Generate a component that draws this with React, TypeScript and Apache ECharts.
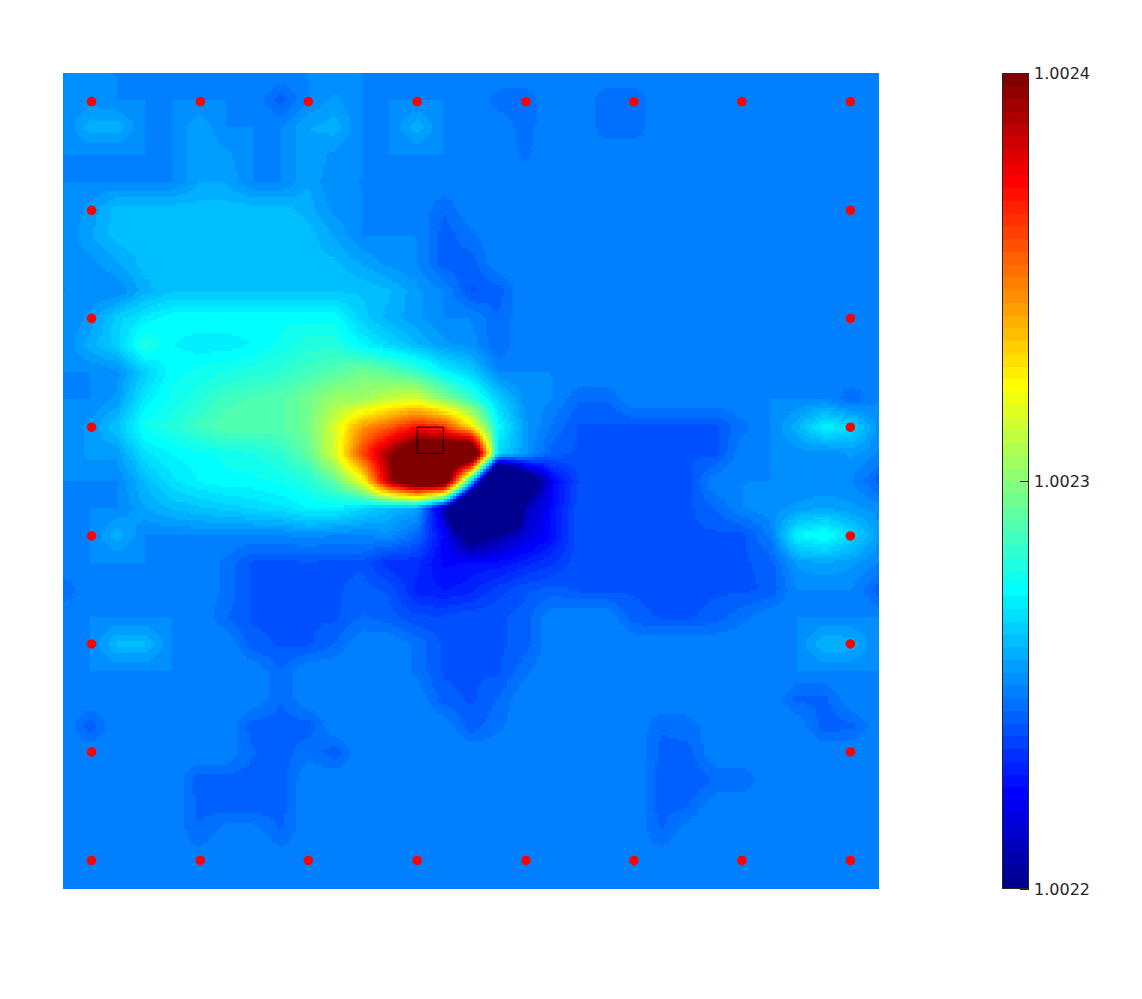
import React, { useEffect, useRef } from "react";
import * as echarts from "echarts";

// Colour-bar range and ticks (x 1e-4, so that the tick interval is a whole number)
const scaleMin = 10022;
const scaleMax = 10024;
const colorbarTicks = [10022, 10023, 10024];
const colorLevels = 64;

// Field at the 31 x 31 mesh vertices, in percent of the colour-bar range.
// Values outside 0..100 are saturated in the picture.
const fieldRows: number[][] = [
  [25,25,25,25,25,25,25,25,25,25,25,25,25,25,25,25,25,25,25,25,25,25,25,25,25,25,25,25,25,25,25],
  [25,26,25,25,25,25,25,25,21,25,27,25,25,25,25,25,22.5,22,25,25,22,22,25,25,25,25,25,25,25,25,25],
  [25,29,29,25,25,28,25,25,25,28,29,25,25,29,25,25,25,22.5,25,25,22,22,25,25,25,25,25,25,25,25,25],
  [25,25,25,25,25,28,27,25,25,28,26,25,25,25,25,25,25,23,25,25,25,25,25,25,25,25,25,25,25,25,25],
  [25,25,25,25,25,28,28,25,25,28,25,25,25,25,25,25,25,25,25,25,25,25,25,25,25,25,25,25,25,25,25],
  [25,27,30.5,30.5,30.5,30.5,30.5,30.5,30.5,29,26,25,25,25,22,25,25,25,25,25,25,25,25,25,25,25,25,25,25,25,25],
  [25,28,30.5,30.5,30.5,30.5,30.5,30.5,30.5,30.5,28,25,25,25,21,23,25,25,25,25,25,25,25,25,25,25,25,25,25,25,25],
  [25,26,28,30.5,30.5,30.5,30.5,30.5,30.5,30.5,30,28,26,25,21,21,25,25,25,25,25,25,25,25,25,25,25,25,25,25,25],
  [25,25,25,29,31,31,31,31,31,31,31,31,30,27,25,20,21,25,25,25,25,25,25,25,25,25,25,25,25,25,25],
  [25,27,32,35,37,37,37,37,37,37,37,32,29,27,25,25,22,25,25,25,25,25,25,25,25,25,25,25,25,25,25],
  [25,29,32,40,36,35,35,36,38,40,40,36,33,30,27,26,22,25,25,25,25,25,25,25,25,25,25,25,25,25,25],
  [25,25,26,32,37,38,39,40,41,43,45,48,46,42,36,32,25,25,25,25,25,25,25,25,25,25,25,25,25,25,25],
  [25,25,27,35,38,40,43,44,45,48,52,52,56,58,50,42,32,26,25,22,22,25,25,25,25,25,25,25,25,22,25],
  [25,27,31,38,40,43,45,45,45,48,58,72,78,86,82,65,37,27,23,20,20,20,20,20,20,23,25,29,36,33,26],
  [25,27,27,34,36,37,38,39,41,46,58,80,97,112,115,125,33,27,21,20,20,20,20,20,20,25,25,26,25,27,25],
  [25,25,25,30,34,36,37,37,38,40,46,60,95,115,115,35,-50,-10,12,19,20,20,20,20,25,25,25,25,25,25,21],
  [25,25,25,28,30,31,32,33,34,36,36,33,30,28,5,-45,-50,4,13,20,20,20,20,20,22,25,26,27,28,27,26],
  [25,25,29,25,25,25,25,25,25,26,25,25,26,22,12,-5,2,8,13,20,20,20,20,20,20,20,24,36,38,33,27],
  [25,25,25,25,25,25,23,20,20,20,20,20,16,16,12,13,13,15,17,20,20,20,20,20,20,20,21,27,28,27,25],
  [22,25,25,25,25,25,23,20,20,20,20,21,20,15,14,15,18,20,21,20,20,20,20,20,20,20,20.5,25,25,25,21],
  [25,25,25,25,25,25,22,20,20,20,20,22,21,19,19,20,20,21,25,25,25,21,20,20,21,23,25,25,25,25,25],
  [25,25,30,30,25,25,25,21,20,20,22,25,25,23,20,20,20,21,25,25,25,25,25,25,25,25,25,25,30,29,25],
  [25,25,25,25,25,25,25,25,22,25,25,25,25,23,20,20,20,23,25,25,25,25,25,25,25,25,25,25,25,25,25],
  [25,25,25,25,25,25,25,25,22,25,25,25,25,25,21,20,22,25,25,25,25,25,25,25,25,25,25,21.5,21.5,25,25],
  [25,21,25,25,25,25,25,21,21,21,25,25,25,25,25,21,23,25,25,25,25,25,22,22.5,25,25,25,25,21,21.5,25],
  [25,25,25,25,25,25,25,22,21,23,21,25,25,25,25,25,25,25,25,25,25,25,21.5,21.5,25,25,25,25,25,25,25],
  [25,25,25,25,25,21,21,21,21,25,25,25,25,25,25,25,25,25,25,25,25,25,21,20.5,22,22,25,25,25,25,25],
  [25,25,25,25,25,21.5,21,21,21,25,25,25,25,25,25,25,25,25,25,25,25,25,21,22,25,25,25,25,25,25,25],
  [25,25,25,25,25,22,25,25,22,25,25,25,25,25,25,25,25,25,25,25,25,25,22,25,25,25,25,25,25,25,25],
  [25,25,25,25,25,25,25,25,25,25,25,25,25,25,25,25,25,25,25,25,25,25,25,25,25,25,25,25,25,25,25],
  [25,25,25,25,25,25,25,25,25,25,25,25,25,25,25,25,25,25,25,25,25,25,25,25,25,25,25,25,25,25,25],
];

// Red sensor dots, mesh units
const dotPositions = [1.05, 5.05, 9.02, 13.02, 17.02, 20.99, 24.96, 28.95];
// Black square, mesh units: [x0, y0, x1, y1]
const markedCell = [13, 13, 14, 14];

const SUB = 9;

function jetColor(index: number): string {
  const k = (index + 1) / colorLevels;
  const c = (v: number) => Math.round(255 * Math.max(0, Math.min(1, v)));
  const r = c(Math.min(4 * k - 1.5, -4 * k + 4.5));
  const g = c(Math.min(4 * k - 0.5, -4 * k + 3.5));
  const b = c(Math.min(4 * k + 0.5, -4 * k + 2.5));
  return `rgb(${r},${g},${b})`;
}

function levelIndex(percent: number): number {
  const t = Math.max(0, Math.min(0.99999, percent / 100));
  return Math.floor(t * (colorLevels - 0.01));
}

function cellData(): number[][] {
  const out: number[][] = [];
  for (let j = 0; j < fieldRows.length - 1; j++) {
    for (let i = 0; i < fieldRows[j].length - 1; i++) {
      out.push([i, j, fieldRows[j][i], fieldRows[j][i + 1], fieldRows[j + 1][i], fieldRows[j + 1][i + 1]]);
    }
  }
  return out;
}

// One mesh cell, shaded between its four corner values like MATLAB's "shading interp"
function renderCell(_p: any, api: any) {
  const i = api.value(0), j = api.value(1);
  const a = api.value(2), b = api.value(3), c = api.value(4), d = api.value(5);
  const p0 = api.coord([i, j]);
  const p1 = api.coord([i + 1, j + 1]);
  const xs: number[] = [], ys: number[] = [];
  for (let s = 0; s <= SUB; s++) {
    xs.push(Math.round(p0[0] + ((p1[0] - p0[0]) * s) / SUB));
    ys.push(Math.round(p0[1] + ((p1[1] - p0[1]) * s) / SUB));
  }
  const children: any[] = [];
  const idx = (u: number, v: number) =>
    levelIndex(a * (1 - u) * (1 - v) + b * u * (1 - v) + c * (1 - u) * v + d * u * v);
  const rect = (x0: number, y0: number, x1: number, y1: number, level: number) => ({
    type: "rect",
    shape: { x: x0, y: y0, width: x1 - x0, height: y1 - y0 },
    style: { fill: jetColor(level) },
    silent: true,
  });
  for (let r = 0; r < SUB; r++) {
    const v = (r + 0.5) / SUB;
    let start = 0;
    let cur = idx(0.5 / SUB, v);
    for (let s = 1; s <= SUB; s++) {
      const next = s < SUB ? idx((s + 0.5) / SUB, v) : -1;
      if (next !== cur) {
        children.push(rect(xs[start], ys[r], xs[s], ys[r + 1], cur));
        start = s;
        cur = next;
      }
    }
  }
  return { type: "group", children };
}

function renderLevel(_p: any, api: any) {
  const level = api.value(0);
  const p0 = api.coord([0, scaleMin + ((level + 1) * (scaleMax - scaleMin)) / colorLevels]);
  const p1 = api.coord([1, scaleMin + (level * (scaleMax - scaleMin)) / colorLevels]);
  return {
    type: "rect",
    shape: { x: p0[0], y: Math.floor(p0[1]), width: p1[0] - p0[0], height: Math.ceil(p1[1]) - Math.floor(p0[1]) },
    style: { fill: jetColor(level) },
  };
}

function renderOutline(_p: any, api: any) {
  const p0 = api.coord([api.value(0), api.value(1)]);
  const p1 = api.coord([api.value(2), api.value(3)]);
  return {
    type: "rect",
    shape: { x: p0[0] + 0.5, y: p0[1] + 0.5, width: p1[0] - p0[0] - 1, height: p1[1] - p0[1] - 1 },
    style: { fill: "none", stroke: api.value(4) ? "#262626" : "#000", lineWidth: 1 },
  };
}

function renderTick(_p: any, api: any) {
  const p = api.coord([1, api.value(0)]);
  const y = Math.floor(p[1]) + 0.5;
  return {
    type: "line",
    shape: { x1: p[0] - 9, y1: y, x2: p[0], y2: y },
    style: { stroke: "#262626", lineWidth: 1 },
  };
}

export default function App() {
  const ref = useRef<HTMLDivElement>(null);
  useEffect(() => {
    const chart = echarts.init(ref.current!, undefined, { renderer: "svg" });
    const dots: number[][] = [];
    dotPositions.forEach((p) => {
      dots.push([p, dotPositions[0]], [p, dotPositions[7]]);
    });
    dotPositions.slice(1, 7).forEach((p) => {
      dots.push([dotPositions[0], p], [dotPositions[7], p]);
    });
    const levels = Array.from({ length: colorLevels }, (_, i) => [i]);
    chart.setOption({
      animation: false,
      backgroundColor: "#fff",
      grid: [
        { left: 63, top: 73, width: 816, height: 816 },
        { left: 1002, top: 73, width: 27, height: 816 },
      ],
      xAxis: [
        { type: "value", gridIndex: 0, min: 0, max: 30, show: false },
        { type: "value", gridIndex: 1, min: 0, max: 1, show: false },
      ],
      yAxis: [
        { type: "value", gridIndex: 0, min: 0, max: 30, inverse: true, show: false },
        {
          type: "value",
          gridIndex: 1,
          min: scaleMin,
          max: scaleMax,
          interval: 1,
          position: "right",
          splitLine: { show: false },
          axisLine: { show: false },
          axisTick: { show: false },
          axisLabel: {
            show: true,
            margin: 5,
            fontFamily: "DejaVu Sans",
            fontSize: 16,
            color: "#262626",
            formatter: (v: number) => (v / 10000).toFixed(4),
          },
        },
      ],
      series: [
        {
          type: "custom",
          xAxisIndex: 0,
          yAxisIndex: 0,
          coordinateSystem: "cartesian2d",
          data: cellData(),
          renderItem: renderCell,
          encode: { x: 0, y: 1 },
          silent: true,
          z: 1,
        },
        {
          type: "custom",
          xAxisIndex: 0,
          yAxisIndex: 0,
          data: [[markedCell[0], markedCell[1], markedCell[2], markedCell[3], 0]],
          renderItem: renderOutline,
          encode: { x: [0, 2], y: [1, 3] },
          silent: true,
          z: 3,
        },
        {
          type: "scatter",
          xAxisIndex: 0,
          yAxisIndex: 0,
          data: dots,
          symbol: "circle",
          symbolSize: 9.5,
          itemStyle: { color: "#ff0000", opacity: 1 },
          silent: true,
          z: 4,
        },
        {
          type: "custom",
          xAxisIndex: 1,
          yAxisIndex: 1,
          data: levels,
          renderItem: renderLevel,
          encode: { y: 0 },
          silent: true,
          z: 1,
        },
        {
          type: "custom",
          xAxisIndex: 1,
          yAxisIndex: 1,
          data: [[0, scaleMax, 1, scaleMin, 1]],
          renderItem: renderOutline,
          encode: { x: [0, 2], y: [1, 3] },
          silent: true,
          z: 3,
        },
        {
          type: "custom",
          xAxisIndex: 1,
          yAxisIndex: 1,
          data: colorbarTicks.map((v) => [v]),
          renderItem: renderTick,
          encode: { y: 0 },
          silent: true,
          z: 4,
        },
      ],
    });
    return () => chart.dispose();
  }, []);
  return <div ref={ref} style={{ position: "absolute", left: 0, top: 0, width: 1142, height: 999 }} />;
}
